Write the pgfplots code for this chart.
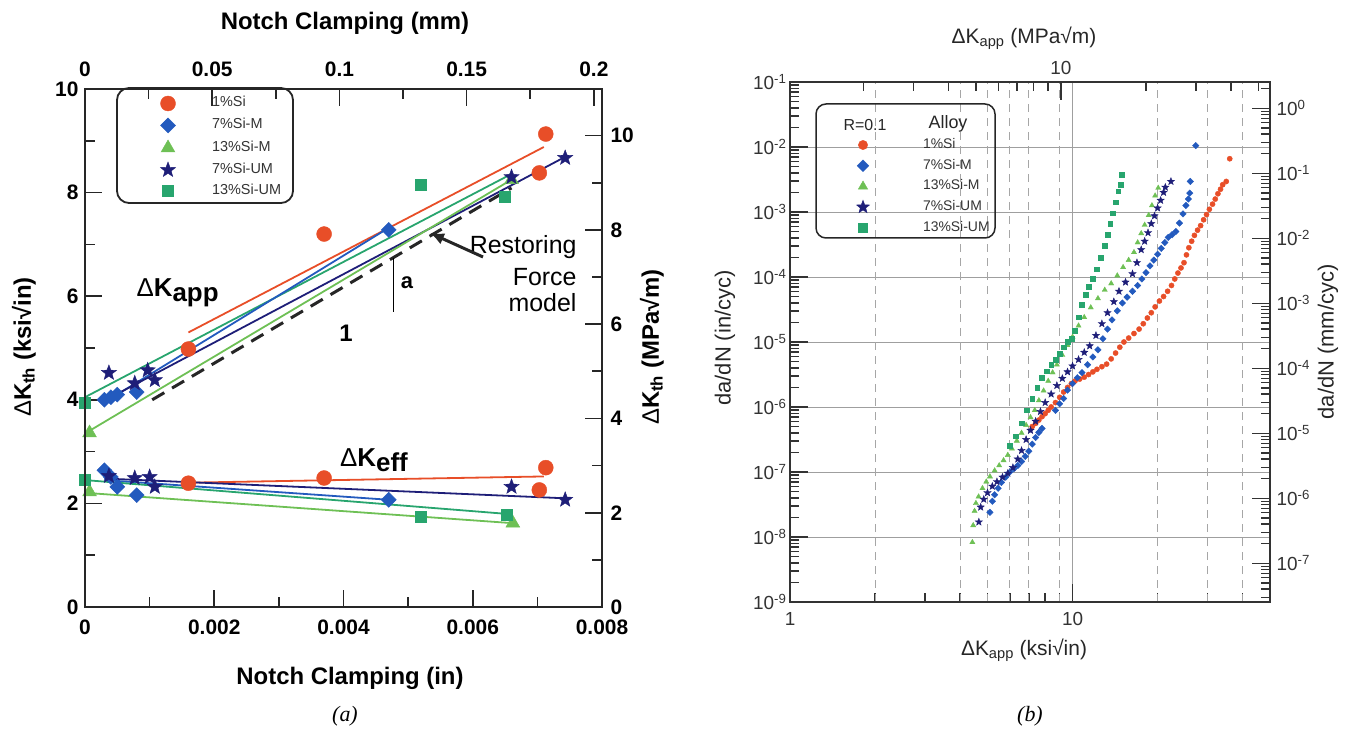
\documentclass[border=0pt]{standalone}
\usepackage{pgfplots}
\pgfplotsset{compat=1.18}
\usepackage{fontspec}
\setmainfont{Liberation Sans}
\newfontfamily\serif{Liberation Serif}
\usetikzlibrary{arrows.meta}
\definecolor{cred}{RGB}{232,78,40}
\definecolor{cblue}{RGB}{35,90,190}
\definecolor{cgreen}{RGB}{110,192,85}
\definecolor{cnavy}{RGB}{30,30,120}
\definecolor{cteal}{RGB}{40,165,110}
\pgfdeclareplotmark{fstar}{%
  \pgfpathmoveto{\pgfqpointpolar{90}{\pgfplotmarksize}}%
  \pgfpathlineto{\pgfqpointpolar{126}{0.42\pgfplotmarksize}}%
  \pgfpathlineto{\pgfqpointpolar{162}{\pgfplotmarksize}}%
  \pgfpathlineto{\pgfqpointpolar{198}{0.42\pgfplotmarksize}}%
  \pgfpathlineto{\pgfqpointpolar{234}{\pgfplotmarksize}}%
  \pgfpathlineto{\pgfqpointpolar{270}{0.42\pgfplotmarksize}}%
  \pgfpathlineto{\pgfqpointpolar{306}{\pgfplotmarksize}}%
  \pgfpathlineto{\pgfqpointpolar{342}{0.42\pgfplotmarksize}}%
  \pgfpathlineto{\pgfqpointpolar{18}{\pgfplotmarksize}}%
  \pgfpathlineto{\pgfqpointpolar{54}{0.42\pgfplotmarksize}}%
  \pgfpathclose
  \pgfusepathqfillstroke
}
\pgfplotsset{
  lmark/.style={only marks, legend image code/.code={\draw[##1] plot coordinates {(0bp,0bp)}; \path[draw=none,fill=none] (-8bp,-6bp) rectangle (8bp,6bp);}},
  lmarkb/.style={only marks, legend image code/.code={\draw[##1, every mark/.append style={scale=1.8}] plot coordinates {(0bp,0bp)}; \path[draw=none,fill=none] (-8bp,-6bp) rectangle (8bp,6bp);}},
  fitline/.style={line width=1.8bp, forget plot},
}
\begin{document}
\begin{tikzpicture}[x=1bp,y=1bp]
\path[use as bounding box] (0,0) rectangle (1347,731);

% ================= Panel (a) =================
\begin{axis}[
  at={(85bp,124bp)}, anchor=south west, scale only axis,
  width=517bp, height=518bp,
  xmin=0, xmax=0.008, ymin=0, ymax=10,
  clip=false, scaled x ticks=false, scaled y ticks=false,
  axis line style={line width=2.2bp, black!85},
  tick pos=left, tick align=inside,
  xtick={0,0.002,0.004,0.006,0.008},
  xticklabels={0,0.002,0.004,0.006,0.008},
  minor xtick={0.001,0.003,0.005,0.007},
  ytick={0,2,4,6,8,10}, yticklabels={0,2,4,6,8,10},
  minor ytick={1,3,5,7,9},
  major tick length=17bp, minor tick length=10bp,
  tick style={line width=1.6bp, black!85},
  tick label style={font=\fontsize{21}{24}\selectfont\bfseries},
  xticklabel style={yshift=-9bp},
  yticklabel style={xshift=-3bp},
  legend style={at={(axis description cs:0.1451,0.9865)}, anchor=north west,
    draw=none, fill=none, inner sep=0pt, outer sep=0pt,
    row sep=7bp, column sep=36bp,
    nodes={inner sep=0pt, text height=10.5bp, text depth=3.5bp},
    font=\fontsize{14.5}{16}\selectfont, text=black!80,
    cells={anchor=west}},
]
% upper fit lines
\addplot[cred, fitline] coordinates {(0.0016,5.3) (0.0071,8.88)};
\addplot[cteal, fitline] coordinates {(0,4.05) (0.0066,8.36)};
\addplot[cblue, fitline] coordinates {(0.0003,3.95) (0.0047,7.32)};
\addplot[cnavy, fitline] coordinates {(0.00025,3.95) (0.0074,8.67)};
\addplot[cgreen, fitline] coordinates {(0,3.35) (0.0066,8.25)};
\addplot[black!85, line width=3bp, dash pattern=on 14bp off 9bp, forget plot] coordinates {(0.00104,4.0) (0.0066,8.09)};
% lower fit lines
\addplot[cred, fitline] coordinates {(0.0016,2.40) (0.0071,2.52)};
\addplot[cnavy, fitline] coordinates {(0.0003,2.48) (0.0074,2.10)};
\addplot[cblue, fitline] coordinates {(0.0003,2.45) (0.0047,2.07)};
\addplot[cteal, fitline] coordinates {(0,2.45) (0.0065,1.80)};
\addplot[cgreen, fitline] coordinates {(0.00005,2.2) (0.0066,1.62)};
% markers
\addplot[lmark, cred, mark=*, mark size=7.5bp] coordinates {
 (0.0016,4.98) (0.0037,7.2) (0.00713,9.13) (0.00703,8.38)
 (0.0016,2.39) (0.0037,2.49) (0.00713,2.69) (0.00703,2.26)};
\addlegendentry{1\%Si}
\addplot[lmark, cblue, mark=square*, mark size=5.3bp, mark options={rotate=45}] coordinates {
 (0.0003,4.0) (0.0004,4.05) (0.0005,4.1) (0.0008,4.15) (0.0047,7.28)
 (0.0003,2.64) (0.0004,2.51) (0.0005,2.32) (0.0008,2.16) (0.0047,2.07)};
\addlegendentry{7\%Si-M}
\addplot[lmark, cgreen, mark=triangle*, mark size=8bp] coordinates {
 (0.00007,3.36) (0.0066,8.25) (0.00007,2.22) (0.00662,1.62)};
\addlegendentry{13\%Si-M}
\addplot[lmark, cnavy, mark=fstar, mark size=8bp] coordinates {
 (0.00037,4.52) (0.00077,4.32) (0.00097,4.57) (0.00108,4.38) (0.0066,8.3) (0.00743,8.67)
 (0.00037,2.53) (0.00077,2.49) (0.001,2.51) (0.00108,2.32) (0.0066,2.32) (0.00743,2.07)};
\addlegendentry{7\%Si-UM}
\addplot[lmark, cteal, mark=square*, mark size=5.5bp] coordinates {
 (0,3.95) (0.0052,8.15) (0.0065,7.92) (0,2.45) (0.0052,1.74) (0.00652,1.78)};
\addlegendentry{13\%Si-UM}
% annotation
\draw[black, line width=1bp] (axis cs:0.00477,6.74) -- (axis cs:0.00477,5.7);
\end{axis}

\begin{axis}[
  at={(85bp,124bp)}, anchor=south west, scale only axis,
  width=517bp, height=518bp,
  xmin=0, xmax=0.2032, ymin=0, ymax=10.988,
  scaled x ticks=false, scaled y ticks=false,
  axis line style={line width=2.2bp, black!85},
  tick pos=right, tick align=inside,
  xtick={0,0.05,0.1,0.15,0.2}, xticklabels={0,0.05,0.1,0.15,0.2},
  minor xtick={0.025,0.075,0.125,0.175},
  ytick={0,2,4,6,8,10}, yticklabels={0,2,4,6,8,10},
  minor ytick={1,3,5,7,9},
  major tick length=17bp, minor tick length=10bp,
  tick style={line width=1.6bp, black!85},
  tick label style={font=\fontsize{21}{24}\selectfont\bfseries},
  xticklabel style={yshift=9bp},
  yticklabel style={xshift=5bp},
]
\end{axis}

\draw[black!85, line width=1.8bp, rounded corners=12bp] (117,528) rectangle (293,643);

\node at (345,708) {\fontsize{24}{26}\selectfont\bfseries Notch Clamping (mm)};
\node at (350,53) {\fontsize{24}{26}\selectfont\bfseries Notch Clamping (in)};
\node[rotate=90] at (24,384) {\fontsize{24}{26}\selectfont{\mdseries Δ}\bfseries K\textsubscript{th} (ksi√in)};
\node[rotate=90] at (652,384) {\fontsize{24}{26}\selectfont{\mdseries Δ}\bfseries K\textsubscript{th} (MPa√m)};
\node[anchor=west] at (133,438) {\fontsize{26}{28}\selectfont{\mdseries Δ}\bfseries K\raisebox{-0.35ex}{app}};
\node at (374,271) {\fontsize{26}{28}\selectfont{\mdseries Δ}\bfseries K\raisebox{-0.35ex}{eff}};
\node at (346,398) {\fontsize{24}{26}\selectfont\bfseries 1};
\node at (407,448) {\fontsize{22}{24}\selectfont\bfseries a};
\node[anchor=east] at (580,484) {\fontsize{25}{27}\selectfont Restoring};
\node[anchor=east] at (580,454) {\fontsize{25}{27}\selectfont Force};
\node[anchor=east] at (580,428) {\fontsize{25}{27}\selectfont model};
\draw[black!85, line width=3bp, -{Latex[length=14bp,width=12bp]}] (483,474) -- (430,498);
\node at (345,15) {\fontsize{22}{24}\selectfont\serif\itshape (a)};

% ================= Panel (b) =================
\begin{axis}[
  at={(790bp,129bp)}, anchor=south west, scale only axis,
  width=480bp, height=520bp,
  xmode=log, ymode=log, xmin=1, xmax=50, ymin=1e-9, ymax=1e-1,
  axis line style={line width=2bp, black!80},
  tick pos=left, tick align=inside,
  xtick={1,10}, xticklabels={1,10},
  minor xtick={2,3,4,5,6,7,8,9,20,30,40},
  ytick={1e-9,1e-8,1e-7,1e-6,1e-5,1e-4,1e-3,1e-2,1e-1},
  yticklabels={10\textsuperscript{-9},10\textsuperscript{-8},10\textsuperscript{-7},10\textsuperscript{-6},10\textsuperscript{-5},10\textsuperscript{-4},10\textsuperscript{-3},10\textsuperscript{-2},10\textsuperscript{-1}},
  minor ytick={2e-9,3e-9,4e-9,5e-9,6e-9,7e-9,8e-9,9e-9,
    2e-8,3e-8,4e-8,5e-8,6e-8,7e-8,8e-8,9e-8,
    2e-7,3e-7,4e-7,5e-7,6e-7,7e-7,8e-7,9e-7,
    2e-6,3e-6,4e-6,5e-6,6e-6,7e-6,8e-6,9e-6,
    2e-5,3e-5,4e-5,5e-5,6e-5,7e-5,8e-5,9e-5,
    2e-4,3e-4,4e-4,5e-4,6e-4,7e-4,8e-4,9e-4,
    2e-3,3e-3,4e-3,5e-3,6e-3,7e-3,8e-3,9e-3,
    2e-2,3e-2,4e-2,5e-2,6e-2,7e-2,8e-2,9e-2},
  major tick length=18bp, minor tick length=9bp,
  tick style={line width=1.5bp, black!80},
  ymajorgrids, xmajorgrids,
  major grid style={gray!75, line width=0.9bp},
  extra x ticks={2,4,5,6,7,9,20,30,40},
  extra x tick labels={},
  extra x tick style={grid=major, major tick length=0pt,
    major grid style={dash pattern=on 8bp off 6bp, gray!70, line width=0.9bp}},
  tick label style={font=\fontsize{19}{21}\selectfont, text=black!80},
  xticklabel style={yshift=-7bp},
  legend style={at={(axis description cs:0.1354,0.8923)}, anchor=north west,
    draw=none, fill=none, inner sep=0pt, outer sep=0pt,
    row sep=6.7bp, column sep=52bp,
    nodes={inner sep=0pt, text height=10.5bp, text depth=3.5bp},
    font=\fontsize{14}{16}\selectfont, text=black!80,
    cells={anchor=west}},
]
\addplot[lmarkb, cred, mark=*, mark size=2.6bp] coordinates {
 (7.2,5.0e-7) (7.4,5.6e-7) (7.6,6.3e-7) (7.8,7.1e-7) (8.0,7.9e-7) (8.2,8.9e-7)
 (8.4,1.0e-6) (8.7,1.17e-6) (9.0,1.41e-6) (9.3,1.70e-6) (9.6,2.0e-6) (9.9,2.29e-6)
 (10.2,2.51e-6) (10.6,2.69e-6) (11.0,2.88e-6) (11.4,3.16e-6) (11.8,3.47e-6) (12.2,3.80e-6)
 (12.7,4.17e-6) (13.2,4.57e-6) (13.7,5.50e-6) (14.2,6.76e-6) (14.7,8.32e-6) (15.2,1.0e-5)
 (15.8,1.15e-5) (16.5,1.35e-5) (17.2,1.58e-5) (17.8,1.91e-5) (18.4,2.34e-5) (19.0,2.82e-5)
 (19.6,3.47e-5) (20.3,4.27e-5) (21.0,5.01e-5) (21.7,6.03e-5) (22.4,7.41e-5) (23.0,9.33e-5)
 (23.6,1.15e-4) (24.2,1.38e-4) (24.8,1.66e-4) (25.3,2.19e-4) (25.8,2.82e-4) (26.4,3.55e-4)
 (27.0,4.37e-4) (27.7,5.25e-4) (28.4,6.17e-4) (29.1,7.59e-4) (29.8,9.12e-4) (30.5,1.10e-3)
 (31.3,1.32e-3) (32.0,1.58e-3) (32.7,1.91e-3) (33.4,2.24e-3) (34.0,2.63e-3) (35.0,2.95e-3)
 (36.0,6.6e-3)};
\addlegendentry{1\%Si}
\addplot[lmarkb, cblue, mark=square*, mark size=2.3bp, mark options={rotate=45}] coordinates {
 (5.1,2.4e-8) (5.2,3.55e-8) (5.3,4.47e-8) (5.45,5.62e-8) (5.6,6.92e-8) (5.8,8.32e-8)
 (6.0,1.0e-7) (6.2,1.12e-7) (6.4,1.26e-7) (6.6,1.45e-7) (6.8,1.74e-7) (7.0,2.09e-7)
 (7.2,2.69e-7) (7.4,3.39e-7) (7.6,4.07e-7) (7.8,4.68e-7)
 (8.7,8.9e-7) (9.0,1.12e-6) (9.3,1.35e-6) (9.6,1.82e-6) (10.0,2.29e-6) (10.4,2.82e-6)
 (10.8,3.39e-6) (11.3,4.47e-6) (11.8,5.89e-6) (12.3,7.59e-6) (12.8,1.12e-5) (13.3,1.58e-5)
 (13.8,2.19e-5) (14.4,3.02e-5) (15.0,3.98e-5) (15.6,4.9e-5) (16.3,6.03e-5) (17.0,7.41e-5)
 (17.6,9.33e-5) (18.2,1.17e-4) (18.8,1.48e-4) (19.4,1.82e-4) (20.0,2.24e-4) (20.6,2.75e-4)
 (21.2,3.39e-4) (21.8,4.07e-4) (22.5,4.47e-4) (23.2,5.01e-4) (23.9,6.76e-4) (24.6,9.33e-4)
 (25.2,1.26e-3) (25.7,1.58e-3) (26.0,1.95e-3) (26.1,2.95e-3) (27.3,1.05e-2)};
\addlegendentry{7\%Si-M}
\addplot[lmarkb, cgreen, mark=triangle*, mark size=3bp] coordinates {
 (4.42,8.3e-9) (4.45,1.51e-8) (4.5,2.51e-8) (4.55,3.31e-8) (4.65,4.17e-8) (4.8,5.62e-8)
 (4.95,7.08e-8) (5.1,8.51e-8) (5.3,1.05e-7) (5.5,1.26e-7) (5.7,1.51e-7) (5.9,1.82e-7)
 (6.1,2.29e-7) (6.35,3.02e-7) (6.6,3.98e-7) (6.85,5.25e-7) (7.1,6.92e-7) (7.35,8.91e-7)
 (7.6,1.26e-6) (7.9,1.78e-6) (8.2,2.51e-6) (8.5,3.39e-6) (8.8,4.47e-6) (9.2,6.31e-6)
 (9.6,8.91e-6) (10.0,1.2e-5) (10.5,1.78e-5) (11.0,2.4e-5) (11.6,3.39e-5) (12.3,4.68e-5)
 (13.0,6.31e-5) (13.7,7.94e-5) (14.4,1.05e-4) (15.1,1.41e-4) (15.8,1.82e-4) (16.5,2.4e-4)
 (17.0,3.39e-4) (17.5,4.68e-4) (18.0,6.31e-4) (18.6,8.91e-4) (19.1,1.26e-3) (19.6,1.78e-3)
 (20.1,2.34e-3)};
\addlegendentry{13\%Si-M}
\addplot[lmarkb, cnavy, mark=fstar, mark size=3.8bp] coordinates {
 (4.66,1.7e-8) (4.73,2.88e-8) (4.85,3.8e-8) (5.0,4.79e-8) (5.2,6.03e-8) (5.4,7.08e-8)
 (5.65,8.32e-8) (5.9,9.55e-8) (6.15,1.17e-7) (6.4,1.58e-7) (6.6,2.14e-7) (6.85,3.16e-7)
 (7.1,4.37e-7) (7.4,6.03e-7) (7.7,8.51e-7) (8.0,1.17e-6) (8.4,1.58e-6) (8.8,2.14e-6)
 (9.2,2.75e-6) (9.6,3.47e-6) (10.0,4.27e-6) (10.5,5.37e-6) (11.0,6.92e-6) (11.5,8.71e-6)
 (12.1,1.26e-5) (12.7,1.91e-5) (13.3,2.82e-5) (14.0,4.17e-5) (14.6,6.03e-5) (15.4,8.32e-5)
 (16.3,1.12e-4) (16.9,1.66e-4) (17.5,2.63e-4) (18.0,3.55e-4) (18.5,4.79e-4) (19.0,6.61e-4)
 (19.5,8.71e-4) (20.0,1.15e-3) (20.5,1.51e-3) (21.0,2.0e-3) (21.3,2.4e-3) (22.3,2.95e-3)};
\addlegendentry{7\%Si-UM}
\addplot[lmarkb, cteal, mark=square*, mark size=2.4bp] coordinates {
 (6.0,2.51e-7) (6.3,3.55e-7) (6.6,5.62e-7) (6.9,8.91e-7) (7.2,1.35e-6) (7.5,2.0e-6)
 (7.8,2.82e-6) (8.1,3.55e-6) (8.4,4.47e-6) (8.7,5.37e-6) (9.0,6.61e-6) (9.3,8.32e-6)
 (9.6,1.0e-5) (9.9,1.12e-5) (10.2,1.51e-5) (10.5,2.4e-5) (10.8,3.8e-5) (11.1,5.37e-5)
 (11.4,7.08e-5) (11.8,9.33e-5) (12.2,1.32e-4) (12.6,2.0e-4) (13.0,3.02e-4) (13.3,4.47e-4)
 (13.6,6.61e-4) (13.9,9.55e-4) (14.2,1.41e-3) (14.5,2.09e-3) (14.8,2.63e-3) (14.9,3.72e-3)};
\addlegendentry{13\%Si-UM}
\end{axis}

\begin{axis}[
  at={(790bp,129bp)}, anchor=south west, scale only axis,
  width=480bp, height=520bp,
  xmode=log, ymode=log, xmin=1.0988, xmax=54.94, ymin=2.54e-8, ymax=2.54,
  axis line style={line width=2bp, black!80},
  tick pos=right, tick align=inside,
  xtick={10}, xticklabels={10},
  minor xtick={2,3,4,5,6,7,8,9,20,30,40,50},
  ytick={1e-7,1e-6,1e-5,1e-4,1e-3,1e-2,1e-1,1},
  yticklabels={10\textsuperscript{-7},10\textsuperscript{-6},10\textsuperscript{-5},10\textsuperscript{-4},10\textsuperscript{-3},10\textsuperscript{-2},10\textsuperscript{-1},10\textsuperscript{0}},
  minor ytick={3e-8,4e-8,5e-8,6e-8,7e-8,8e-8,9e-8,
    2e-7,3e-7,4e-7,5e-7,6e-7,7e-7,8e-7,9e-7,
    2e-6,3e-6,4e-6,5e-6,6e-6,7e-6,8e-6,9e-6,
    2e-5,3e-5,4e-5,5e-5,6e-5,7e-5,8e-5,9e-5,
    2e-4,3e-4,4e-4,5e-4,6e-4,7e-4,8e-4,9e-4,
    2e-3,3e-3,4e-3,5e-3,6e-3,7e-3,8e-3,9e-3,
    2e-2,3e-2,4e-2,5e-2,6e-2,7e-2,8e-2,9e-2,
    2e-1,3e-1,4e-1,5e-1,6e-1,7e-1,8e-1,9e-1,2},
  major tick length=18bp, minor tick length=9bp,
  tick style={line width=1.5bp, black!80},
  tick label style={font=\fontsize{19}{21}\selectfont, text=black!80},
  xticklabel style={yshift=4bp},
  yticklabel style={xshift=3bp},
]
\end{axis}

\draw[black!85, line width=1.5bp, rounded corners=10bp] (816,493) rectangle (995,627);
\node at (865,606) {\fontsize{16}{18}\selectfont\color{black!85}R=0.1};
\node at (948,607) {\fontsize{18}{20}\selectfont\color{black!85}Alloy};

\node at (1024,693) {\fontsize{21}{24}\selectfont\color{black!85}ΔK\textsubscript{app} (MPa√m)};
\node at (1024,81) {\fontsize{21}{24}\selectfont\color{black!85}ΔK\textsubscript{app} (ksi√in)};
\node[rotate=90] at (725,393) {\fontsize{22}{24}\selectfont\color{black!85}da/dN (in/cyc)};
\node[rotate=90] at (1328,389) {\fontsize{22}{24}\selectfont\color{black!85}da/dN (mm/cyc)};
\node at (1030,15) {\fontsize{22}{24}\selectfont\serif\itshape (b)};
\end{tikzpicture}
\end{document}
